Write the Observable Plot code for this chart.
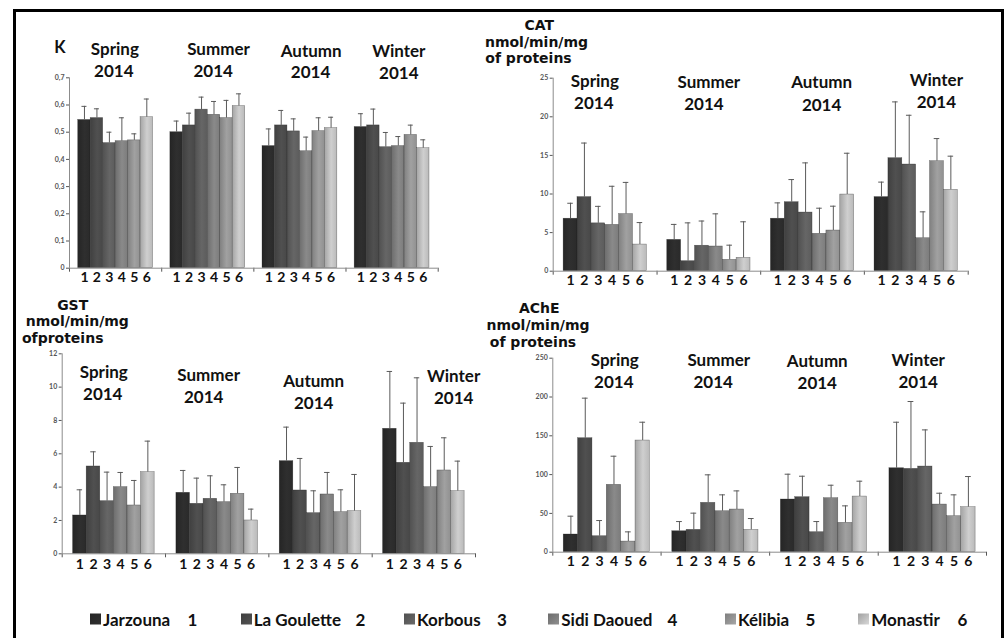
<!DOCTYPE html>
<html><head><meta charset="utf-8">
<script src="https://cdn.jsdelivr.net/npm/d3@7"></script>
<script src="https://cdn.jsdelivr.net/npm/@observablehq/plot@0.6"></script>
<style>
html,body{margin:0;padding:0;background:#fff;}
body{width:1008px;height:638px;overflow:hidden;position:relative;font-family:Lato,"Open Sans",sans-serif;}
#frame{position:absolute;left:13px;top:9px;width:991px;height:700px;border:3px solid #000;box-sizing:border-box;}
.panel{position:absolute;}
.ytitle{position:absolute;transform:translate(-50%,-50%);font-weight:700;font-size:14px;white-space:nowrap;color:#111;text-align:center;font-family:"DejaVu Sans",sans-serif;}
.ytitle span{display:inline-block;}
.sw{position:absolute;top:619px;width:11px;height:11px;transform:translateY(-50%);}
.nm{position:absolute;top:619px;transform:translateY(-50%);font-size:17px;font-weight:700;color:#111;white-space:nowrap;font-family:Lato,sans-serif;}
.no{position:absolute;top:619px;transform:translate(-50%,-50%);font-size:17px;font-weight:700;color:#111;font-family:Lato,sans-serif;}
</style></head>
<body>
<div id="frame"></div>
<svg width="0" height="0" style="position:absolute"><defs id="gdefs"></defs></svg>
<div id="root"></div>
<script>
// ---------- data ----------
const seasons = ["Spring", "Summer", "Autumn", "Winter"];
const yearLabel = "2014";
const sites = ["Jarzouna", "La Goulette", "Korbous", "Sidi Daoued", "Kélibia", "Monastir"];
const siteNumbers = ["1", "2", "3", "4", "5", "6"];

// K (condition index): mean and SD per season (rows) and site (columns)
const kMean = [
  [0.545, 0.552, 0.46, 0.467, 0.47, 0.555],
  [0.50, 0.525, 0.583, 0.564, 0.552, 0.596],
  [0.449, 0.525, 0.503, 0.43, 0.504, 0.515],
  [0.519, 0.525, 0.445, 0.449, 0.49, 0.441]
];
const kSd = [
  [0.05, 0.034, 0.04, 0.086, 0.024, 0.067],
  [0.041, 0.045, 0.046, 0.049, 0.065, 0.045],
  [0.063, 0.055, 0.046, 0.052, 0.049, 0.04],
  [0.049, 0.06, 0.054, 0.035, 0.036, 0.031]
];
const kTicks = [0, 0.1, 0.2, 0.3, 0.4, 0.5, 0.6, 0.7];

// CAT
const catMean = [
  [6.8, 9.6, 6.2, 6.0, 7.4, 3.45],
  [4.06, 1.3, 3.3, 3.2, 1.47, 1.73],
  [6.8, 8.94, 7.6, 4.84, 5.27, 9.93],
  [9.6, 14.64, 13.82, 4.27, 14.25, 10.54]
];
const catSd = [
  [2.0, 7.0, 2.2, 5.0, 4.1, 2.85],
  [2.0, 4.96, 3.2, 4.23, 1.9, 4.67],
  [2.05, 2.93, 6.43, 3.32, 3.15, 5.35],
  [1.94, 7.29, 6.38, 3.42, 2.93, 4.36]
];
const catTicks = [0, 5, 10, 15, 20, 25];

// GST
const gstMean = [
  [2.3, 5.24, 3.16, 4.0, 2.9, 4.9],
  [3.66, 3.0, 3.3, 3.1, 3.6, 2.0],
  [5.56, 3.8, 2.44, 3.56, 2.5, 2.56],
  [7.5, 5.46, 6.66, 4.0, 5.0, 3.76]
];
const gstSd = [
  [1.54, 0.88, 1.74, 0.88, 1.5, 1.86],
  [1.34, 1.54, 1.38, 1.04, 1.58, 0.68],
  [2.04, 1.92, 1.34, 1.32, 1.34, 2.2],
  [3.44, 3.58, 3.9, 2.44, 1.96, 1.8]
];
const gstTicks = [0, 2, 4, 6, 8, 10, 12];

// AChE
const acheMean = [
  [22.8, 146.9, 20.6, 86.8, 13.7, 143.9],
  [27, 28.8, 63.6, 52.8, 55, 28.8],
  [67.9, 70.9, 25.8, 69.6, 37.8, 71.7],
  [108.2, 107.4, 110.4, 61.4, 46.4, 58]
];
const acheSd = [
  [23.6, 51.6, 20.2, 36.9, 12.5, 23.6],
  [12.5, 21.5, 36.1, 21.1, 24, 14.6],
  [32.6, 27, 13.7, 16.7, 21.9, 19.8],
  [59.3, 86.8, 47.2, 14.6, 27.5, 39.5]
];
const acheTicks = [0, 50, 100, 150, 200, 250];

const kTitle = ["K"];
const catTitle = ["CAT", "nmol/min/mg", "of proteins"];
const gstTitle = ["GST", "nmol/min/mg", "ofproteins"];
const acheTitle = ["AChE", "nmol/min/mg", "of proteins"];

// ---------- styles / layout ----------
const siteColors = ["#2a2a2a", "#484848", "#5c5c5c", "#7c7c7c", "#919191", "#bababa"];
const commaFmt = d => d === 0 ? "0" : d.toFixed(1).replace(".", ",");

// titleBox: [centerX, centerY, lineHeight], titleShift: per-line horizontal shift
const panels = [
  {mean: kMean, sd: kSd, ticks: kTicks, fmt: commaFmt, title: kTitle,
   box: [14, 12, 470, 285], frame: [69, 437.7, 77.3, 267.7], period: 7.39, pad: 0.7, digitDy: 9,
   titleBox: [60, 47.3, 17], titleShift: [0],
   labelOff: [[-0.8, -28, -1.8, -6.6], [10.7, -28.3, 5.4, -6.6], [11.3, -26.6, 10.6, -5.3], [6.7, -26.3, 6.7, -4.3]]},
  {mean: catMean, sd: catSd, ticks: catTicks, fmt: d => String(d), title: catTitle,
   box: [500, 12, 495, 285], frame: [552.7, 967.7, 77.7, 270.7], period: 7.47, pad: 0.75, digitDy: 9.5,
   titleBox: [536.5, 41.8, 16.8], titleShift: [2.8, 0, -8],
   labelOff: [[-10.4, 3.3, -11.4, 25.6], [0, 4.3, -5, 26.3], [9.1, 4.3, 9.1, 27], [20.2, 2.3, 20.2, 24.3]]},
  {mean: gstMean, sd: gstSd, ticks: gstTicks, fmt: d => String(d), title: gstTitle,
   box: [14, 300, 480, 275], frame: [61.7, 475, 353.3, 553.3], period: 7.6, pad: 0.8, digitDy: 10.5,
   titleBox: [77.3, 321.7, 16.8], titleShift: [-4.6, 0, -14.6],
   labelOff: [[-10.1, 18.4, -11.1, 40.7], [-8.5, 21.7, -13.5, 44], [-6.8, 27.4, -6.8, 49.4], [29.8, 22.7, 29.8, 44.4]]},
  {mean: acheMean, sd: acheSd, ticks: acheTicks, fmt: d => String(d), title: acheTitle,
   box: [500, 300, 495, 275], frame: [552.3, 986, 357.7, 551.7], period: 7.56, pad: 0.76, digitDy: 9,
   titleBox: [538, 325, 16.8], titleShift: [1.3, 0, -5],
   labelOff: [[8, 2.3, 7, 24], [3.4, 2.3, -2.2, 24], [-6.7, 3.3, -6.7, 25], [-14.3, 2.3, -14.3, 24]]}
];

const legendSwatchX = [90, 240.7, 404, 548.3, 725, 858.3];
const legendNumberX = [192.5, 360.5, 502, 672.5, 810.5, 962.5];

// gradients
const defs = document.getElementById("gdefs");
const NS = "http://www.w3.org/2000/svg";
siteColors.forEach((c, i) => {
  const g = document.createElementNS(NS, "linearGradient");
  g.setAttribute("id", "grad" + i);
  g.setAttribute("x1", "0"); g.setAttribute("x2", "1"); g.setAttribute("y1", "0"); g.setAttribute("y2", "0");
  const stops = [[0, d3.color(c).darker(0.35)], [0.55, d3.color(c).brighter(0.3)], [1, d3.color(c)]];
  stops.forEach(([o, col]) => {
    const s = document.createElementNS(NS, "stop");
    s.setAttribute("offset", o);
    s.setAttribute("stop-color", col.formatHex());
    g.appendChild(s);
  });
  defs.appendChild(g);
});

const root = document.getElementById("root");

panels.forEach(cfg => {
  const P = cfg.period, pad = cfg.pad;
  const rows = [];
  cfg.mean.forEach((arr, g) => arr.forEach((v, i) => rows.push({season: seasons[g], g, i, value: v, sd: cfg.sd[g][i]})));
  const xs = d => d.g * P + d.i;
  const [bl, bt, bw, bh] = cfg.box;
  const [fx0, fx1, fyT, fyB] = cfg.frame;
  const xEnd = 3 * P + 6 + pad;
  const seps = [-pad, P - (P - 6) / 2, 2 * P - (P - 6) / 2, 3 * P - (P - 6) / 2, xEnd];
  const capHalf = 0.2;
  const marks = [];
  marks.push(Plot.ruleX([-pad], {stroke: "#8c8c8c"}));
  sites.forEach((s, i) => marks.push(Plot.rect(rows.filter(r => r.i === i), {
    x1: xs, x2: d => xs(d) + 1, y1: 0, y2: "value",
    fill: `url(#grad${i})`, stroke: "#1a1a1a", strokeWidth: 0.5, strokeOpacity: 0.55
  })));
  marks.push(Plot.ruleY([0], {stroke: "#8c8c8c"}));
  marks.push(Plot.ruleX(rows, {x: d => xs(d) + 0.5, y1: "value", y2: d => d.value + d.sd, stroke: "#5a5a5a", strokeWidth: 1}));
  marks.push(Plot.ruleY(rows, {y: d => d.value + d.sd, x1: d => xs(d) + 0.5 - capHalf, x2: d => xs(d) + 0.5 + capHalf, stroke: "#5a5a5a", strokeWidth: 1}));
  marks.push(Plot.text(rows, {x: d => xs(d) + 0.5, text: d => siteNumbers[d.i], frameAnchor: "bottom", dy: cfg.digitDy,
    lineAnchor: "middle", fontSize: 14, fontWeight: 700, fill: "#111", fontFamily: "Lato, sans-serif"}));
  seasons.forEach((s, g) => {
    const o = cfg.labelOff[g];
    marks.push(Plot.text([s], {x: () => g * P + 3, text: d => d, frameAnchor: "top", dx: o[0], dy: o[1],
      lineAnchor: "middle", fontSize: 17, fontWeight: 700, fill: "#111", fontFamily: "Lato, sans-serif"}));
    marks.push(Plot.text([yearLabel], {x: () => g * P + 3, text: d => d, frameAnchor: "top", dx: o[2], dy: o[3],
      lineAnchor: "middle", fontSize: 17, fontWeight: 700, fill: "#111", fontFamily: "Lato, sans-serif"}));
  });
  const yMax = cfg.ticks[cfg.ticks.length - 1];
  const chart = Plot.plot({
    width: bw, height: bh,
    marginLeft: fx0 - bl, marginRight: bl + bw - fx1,
    marginTop: fyT - bt, marginBottom: bt + bh - fyB,
    x: {domain: [-pad, xEnd], ticks: seps, tickFormat: () => "", tickSize: 4, label: null},
    y: {domain: [0, yMax], ticks: cfg.ticks, tickFormat: cfg.fmt, tickSize: 3, tickPadding: 2, label: null},
    style: {fontSize: "7px", fontWeight: "bold", color: "#555", background: "transparent", overflow: "visible", fontFamily: "Lato, sans-serif"},
    marks
  });
  chart.classList.add("panel");
  chart.style.left = bl + "px";
  chart.style.top = bt + "px";
  root.appendChild(chart);
  // one multi-line title block per panel
  const div = document.createElement("div");
  div.className = "ytitle";
  if (cfg.title.length === 1) { div.style.fontFamily = "Lato, sans-serif"; div.style.fontSize = "16.5px"; }
  div.style.left = cfg.titleBox[0] + "px";
  div.style.top = cfg.titleBox[1] + "px";
  div.style.lineHeight = cfg.titleBox[2] + "px";
  cfg.title.forEach((t, j) => {
    if (j > 0) div.appendChild(document.createElement("br"));
    const sp = document.createElement("span");
    sp.textContent = t;
    sp.style.transform = `translateX(${cfg.titleShift[j]}px)`;
    div.appendChild(sp);
  });
  root.appendChild(div);
});

// legend
sites.forEach((s, i) => {
  const sw = document.createElement("div");
  sw.className = "sw";
  const c = d3.color(siteColors[i]);
  sw.style.background = `linear-gradient(135deg, ${c.darker(0.4).formatHex()}, ${c.brighter(0.4).formatHex()})`;
  sw.style.left = legendSwatchX[i] + "px";
  root.appendChild(sw);
  const nm = document.createElement("div");
  nm.className = "nm";
  nm.textContent = s;
  nm.style.left = (legendSwatchX[i] + 13) + "px";
  root.appendChild(nm);
  const no = document.createElement("div");
  no.className = "no";
  no.textContent = siteNumbers[i];
  no.style.left = legendNumberX[i] + "px";
  root.appendChild(no);
});
</script>
</body></html>
